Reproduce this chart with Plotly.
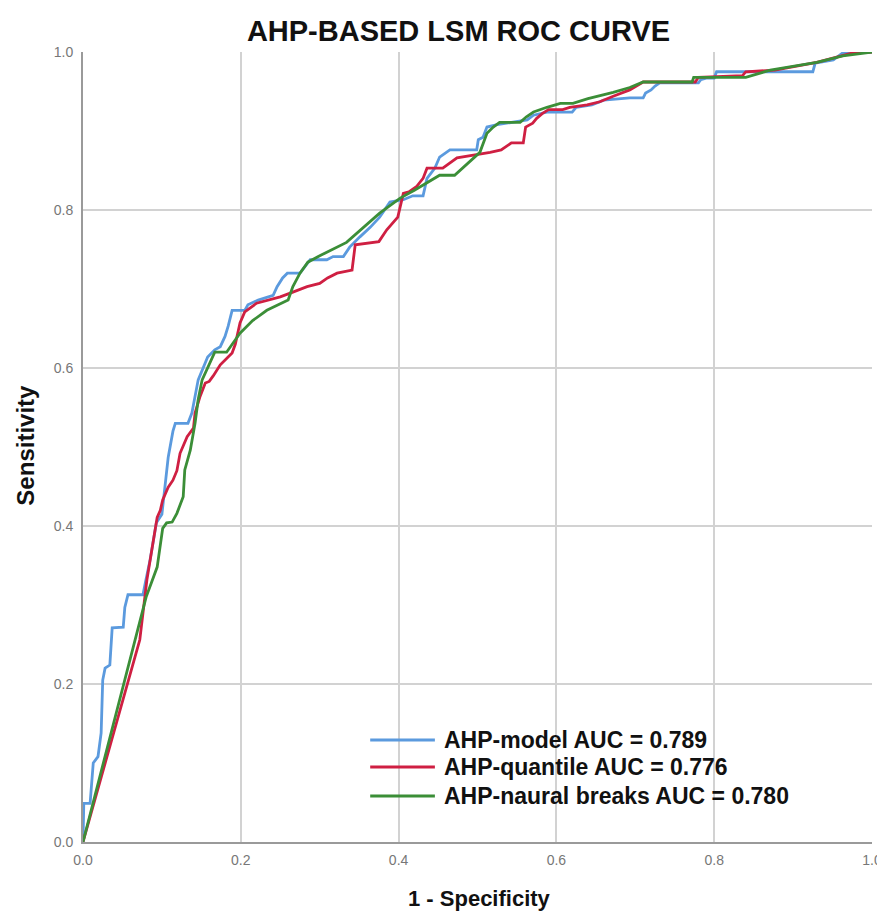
import plotly.graph_objects as go

# AHP-model
blue_x = [0, 0.001, 0.009, 0.013, 0.019, 0.023, 0.025, 0.028, 0.034, 0.037, 0.051, 0.053, 0.057, 0.076,
          0.079, 0.085, 0.093, 0.1, 0.105, 0.108, 0.114, 0.117, 0.133, 0.138, 0.146, 0.158, 0.167, 0.174,
          0.18, 0.184, 0.189, 0.205, 0.209, 0.222, 0.241, 0.246, 0.253, 0.259, 0.275, 0.288, 0.309, 0.317,
          0.33, 0.338, 0.351, 0.364, 0.376, 0.389, 0.406, 0.418, 0.431, 0.436, 0.446, 0.452, 0.465, 0.499,
          0.501, 0.507, 0.512, 0.525, 0.563, 0.571, 0.588, 0.6, 0.62, 0.625, 0.645, 0.66, 0.693, 0.71,
          0.713, 0.72, 0.725, 0.731, 0.78, 0.783, 0.79, 0.8, 0.803, 0.925, 0.928, 0.951, 0.963, 1.0]
blue_y = [0, 0.049, 0.049, 0.10, 0.108, 0.138, 0.205, 0.22, 0.224, 0.271, 0.272, 0.297, 0.313, 0.313,
          0.328, 0.357, 0.404, 0.415, 0.46, 0.487, 0.52, 0.53, 0.53, 0.543, 0.585, 0.614, 0.623, 0.627,
          0.64, 0.653, 0.673, 0.673, 0.68, 0.686, 0.692, 0.703, 0.714, 0.72, 0.72, 0.737, 0.737, 0.741,
          0.741, 0.753, 0.766, 0.778, 0.791, 0.81, 0.813, 0.818, 0.818, 0.84, 0.853, 0.867, 0.876, 0.876,
          0.889, 0.892, 0.905, 0.908, 0.914, 0.92, 0.924, 0.924, 0.924, 0.93, 0.933, 0.939, 0.942, 0.942,
          0.948, 0.952, 0.957, 0.961, 0.961, 0.965, 0.967, 0.967, 0.975, 0.975, 0.986, 0.99, 0.999, 1.0]

# AHP-quantile
red_x = [0, 0.057, 0.072, 0.081, 0.085, 0.094, 0.098, 0.101, 0.108, 0.114, 0.119, 0.123, 0.132, 0.14,
         0.142, 0.148, 0.155, 0.16, 0.165, 0.174, 0.189, 0.193, 0.199, 0.205, 0.22, 0.235, 0.25, 0.266,
         0.284, 0.3, 0.31, 0.322, 0.341, 0.345, 0.36, 0.375, 0.385, 0.399, 0.406, 0.413, 0.423, 0.431,
         0.436, 0.456, 0.474, 0.5, 0.516, 0.53, 0.543, 0.558, 0.561, 0.57, 0.575, 0.582, 0.59, 0.608,
         0.617, 0.639, 0.655, 0.672, 0.693, 0.71, 0.776, 0.78, 0.836, 0.84, 0.877, 0.93, 0.963, 0.976, 1.0]
red_y = [0, 0.201, 0.256, 0.332, 0.357, 0.411, 0.42, 0.433, 0.449, 0.458, 0.47, 0.492, 0.513, 0.524,
         0.543, 0.563, 0.581, 0.583, 0.59, 0.604, 0.619, 0.63, 0.657, 0.671, 0.682, 0.686, 0.69, 0.696,
         0.703, 0.707, 0.714, 0.72, 0.724, 0.756, 0.758, 0.76, 0.775, 0.791, 0.821, 0.823, 0.83, 0.84,
         0.853, 0.853, 0.866, 0.87, 0.873, 0.876, 0.885, 0.885, 0.905, 0.91, 0.916, 0.922, 0.927, 0.927,
         0.93, 0.933, 0.937, 0.944, 0.952, 0.962, 0.962, 0.968, 0.97, 0.975, 0.977, 0.987, 0.995, 0.999, 1.0]

# AHP-natural breaks
green_x = [0, 0.08, 0.094, 0.101, 0.106, 0.113, 0.119, 0.127, 0.129, 0.136, 0.142, 0.146, 0.151, 0.158,
           0.167, 0.182, 0.19, 0.199, 0.215, 0.233, 0.26, 0.266, 0.275, 0.285, 0.3, 0.334, 0.376, 0.402,
           0.42, 0.436, 0.452, 0.471, 0.49, 0.503, 0.512, 0.52, 0.528, 0.554, 0.562, 0.571, 0.588, 0.605,
           0.621, 0.64, 0.672, 0.693, 0.71, 0.772, 0.774, 0.84, 0.871, 0.93, 0.963, 1.0]
green_y = [0, 0.31, 0.348, 0.397, 0.404, 0.405, 0.416, 0.437, 0.471, 0.496, 0.53, 0.56, 0.585, 0.601,
           0.62, 0.62, 0.632, 0.644, 0.66, 0.673, 0.686, 0.703, 0.72, 0.734, 0.742, 0.759, 0.796, 0.815,
           0.825, 0.835, 0.844, 0.844, 0.861, 0.873, 0.897, 0.905, 0.911, 0.911, 0.918, 0.924, 0.93, 0.935,
           0.935, 0.941, 0.949, 0.955, 0.962, 0.962, 0.968, 0.968, 0.977, 0.987, 0.995, 1.0]

names = ["AHP-model AUC = 0.789", "AHP-quantile AUC = 0.776", "AHP-naural breaks AUC = 0.780"]
colors = ["#5b9ade", "#cf1f42", "#3b8e37"]
tick_vals = [0.0, 0.2, 0.4, 0.6, 0.8, 1.0]
tick_text = ["0.0", "0.2", "0.4", "0.6", "0.8", "1.0"]

fig = go.Figure()
for xs, ys, nm, c in zip([blue_x, red_x, green_x], [blue_y, red_y, green_y], names, colors):
    fig.add_trace(go.Scatter(x=xs, y=ys, mode="lines", name=nm,
                             line=dict(color=c, width=2.8), showlegend=False))

sans = "Liberation Sans, Arial, sans-serif"

# custom legend (line sample + text), placed in paper coordinates
legend_rows_y = [0.1291, 0.0949, 0.0582]
shapes = []
annotations = []
for nm, c, ly in zip(names, colors, legend_rows_y):
    shapes.append(dict(type="line", xref="paper", yref="paper", x0=0.364, x1=0.446, y0=ly, y1=ly,
                       line=dict(color=c, width=3)))
    annotations.append(dict(text="<b>" + nm + "</b>", xref="paper", yref="paper", x=0.455, y=ly,
                            xanchor="left", yanchor="middle", showarrow=False,
                            font=dict(family=sans, size=23, color="#111")))

annotations += [
    dict(text="<b>1 - Specificity</b>", xref="paper", yref="paper", x=0.502, y=-0.072,
         xanchor="center", yanchor="middle", showarrow=False,
         font=dict(family=sans, size=22, color="#111")),
    dict(text="<b>Sensitivity</b>", xref="paper", yref="paper", x=-0.074, y=0.5025,
         xanchor="center", yanchor="middle", showarrow=False, textangle=-90,
         font=dict(family=sans, size=24, color="#111")),
]

fig.update_layout(
    width=877, height=903,
    margin=dict(l=75, r=13, t=44, b=69, autoexpand=False),
    paper_bgcolor="white", plot_bgcolor="white",
    title=dict(text="<b>AHP-BASED LSM ROC CURVE</b>", x=0.5137, xanchor="center",
               y=0.9745, yanchor="middle", automargin=False,
               font=dict(family=sans, size=29, color="#111")),
    showlegend=False,
    xaxis=dict(range=[0, 1], tickvals=tick_vals, ticktext=tick_text, automargin=False,
               showgrid=True, gridcolor="#d2d2d2", gridwidth=1.6,
               showline=True, linecolor="#9a9a9a", linewidth=2,
               zeroline=False, ticks="outside", ticklen=4, tickcolor="rgba(0,0,0,0)",
               ticklabeloverflow="allow",
               tickfont=dict(family=sans, size=14, color="#777")),
    yaxis=dict(range=[0, 1], tickvals=tick_vals, ticktext=tick_text, automargin=False,
               showgrid=True, gridcolor="#d2d2d2", gridwidth=1.6,
               showline=True, linecolor="#9a9a9a", linewidth=2,
               zeroline=False, ticks="outside", ticklen=5, tickcolor="rgba(0,0,0,0)",
               ticklabeloverflow="allow",
               tickfont=dict(family=sans, size=14, color="#777")),
    shapes=shapes,
    annotations=annotations,
)

fig.write_html("out.html")
